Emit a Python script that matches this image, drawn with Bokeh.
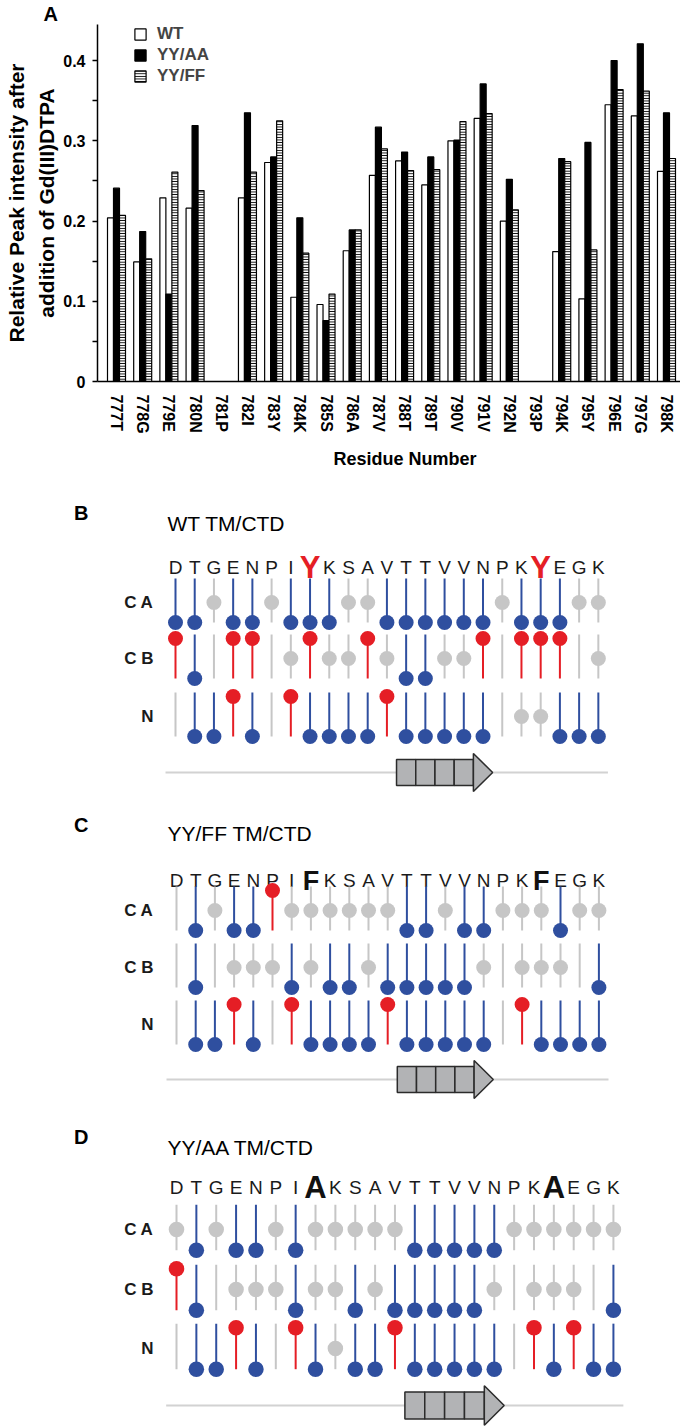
from bokeh.plotting import figure
from bokeh.models import (Range1d, FixedTicker, Legend, LegendItem, Title,
                          ColumnDataSource, PrintfTickFormatter)
from bokeh.layouts import column
from bokeh.core.properties import value
from bokeh.embed import file_html
from bokeh.resources import INLINE

FONT = "Liberation Sans"
NaN = float("nan")

# ---------------- data: panel A ----------------
residues = ["777T", "778G", "779E", "780N", "781P", "782I", "783Y", "784K", "785S",
            "786A", "787V", "788T", "789T", "790V", "791V", "792N", "793P", "794K",
            "795Y", "796E", "797G", "798K"]
wt = [0.204, 0.149, 0.229, 0.216, NaN, 0.229, 0.273, 0.105, 0.096, 0.163, 0.257,
      0.275, 0.245, 0.300, 0.328, 0.200, NaN, 0.162, 0.103, 0.345, 0.331, 0.262]
yy_aa = [0.241, 0.187, 0.109, 0.319, NaN, 0.335, 0.280, 0.204, 0.076, 0.189, 0.317,
         0.286, 0.280, 0.301, 0.371, 0.252, NaN, 0.278, 0.298, 0.400, 0.421, 0.335]
yy_ff = [0.207, 0.153, 0.261, 0.238, NaN, 0.261, 0.325, 0.160, 0.109, 0.189, 0.290,
         0.263, 0.264, 0.324, 0.334, 0.214, NaN, 0.274, 0.164, 0.364, 0.362, 0.278]
y_ticks = [0, 0.1, 0.2, 0.3, 0.4]
y_minor = [0.05, 0.15, 0.25, 0.35]

# ---------------- data: panels B-D ----------------
# states: d = blue (down), u = red (up), m = grey (middle), n = no peak
seq_wt = list("DTGENPIYKSAVTTVVNPKYEGK")
seq_ff = list("DTGENPIFKSAVTTVVNPKFEGK")
seq_aa = list("DTGENPIAKSAVTTVVNPKAEGK")
mutated = [7, 19]
row_names = ["C A", "C B", "N"]
wt_states = ["ddmddmdddmmddddddmdddmm",
             "udnuunmummumddmmunuuunm",
             "nddudnuddddudddddnmmddd"]
ff_states = ["ndmddummmmmmddmddmmmdmm",
             "ndnmmmdmddmdddddmnmmmnd",
             "nddudnuddddudddddnudddd"]
aa_states = ["mdmddmdmmmmmdddddmmmmmm",
             "udnmmmdmmdmdddddmnmmmnd",
             "nddudnudmddudddddnududd"]
strand_cells = [11.5, 12.5, 13.5, 14.5]   # residue-index start of each strand cell
strand_tip = 16.5

W = 680
FL = 97          # frame left (all figures share it)
BLUE = "#2f4f9f"
RED = "#e51e25"
GREY = "#c6c6c6"

# ---------------- panel A ----------------
HA = 490
s = 26.19
y0_px = 381
ppy = 806.7
top_px = 22
ymax = (y0_px - top_px) / ppy
xa0 = -(116 - FL) / s
xa1 = xa0 + (W - FL) / s

pA = figure(width=W, height=HA, x_range=Range1d(xa0, xa1), y_range=Range1d(0, ymax),
            output_backend="svg", toolbar_location=None, title=None,
            min_border_left=FL, min_border_right=0, min_border_top=top_px,
            min_border_bottom=HA - y0_px)
pA.outline_line_color = None
pA.grid.visible = False

idx = list(range(len(residues)))
bw = 6 / s
src = ColumnDataSource(dict(x_wt=[i - bw for i in idx], x_aa=idx,
                            x_ff=[i + bw for i in idx], wt=wt, aa=yy_aa, ff=yy_ff))
r_wt = pA.vbar(x="x_wt", top="wt", width=bw, bottom=0, source=src,
               fill_color="white", line_color="black", line_width=1.2)
r_aa = pA.vbar(x="x_aa", top="aa", width=bw, bottom=0, source=src,
               fill_color="black", line_color="black", line_width=1.2)
r_ff = pA.vbar(x="x_ff", top="ff", width=bw, bottom=0, source=src,
               fill_color="white", line_color="black", line_width=1.2,
               hatch_pattern="horizontal_line", hatch_color="black",
               hatch_scale=2.6, hatch_weight=1.2)

ya = pA.yaxis[0]
ya.ticker = FixedTicker(ticks=y_ticks, minor_ticks=y_minor)
ya.formatter = PrintfTickFormatter(format="%.1f")
ya.major_label_overrides = {0: "0"}
ya.axis_line_width = 1.5
ya.major_tick_line_width = 1.5
ya.minor_tick_line_width = 1.5
ya.major_tick_out = 5
ya.major_tick_in = 0
ya.minor_tick_out = 5
ya.minor_tick_in = 0
ya.major_label_standoff = 7
ya.major_label_text_font = FONT
ya.major_label_text_font_size = "16px"
ya.major_label_text_font_style = "bold"
ya.major_label_text_color = "black"
ya.axis_label = "Relative Peak intensity after\naddition of Gd(III)DTPA"
ya.axis_label_text_font = FONT
ya.axis_label_text_font_size = "21px"
ya.axis_label_text_font_style = "bold"
ya.axis_label_text_line_height = 1.3
ya.axis_label_standoff = 2
ya.axis_label_text_color = "black"

xa = pA.xaxis[0]
xa.ticker = FixedTicker(ticks=idx)
xa.major_label_overrides = {i: r for i, r in zip(idx, residues)}
xa.major_label_orientation = "vertical"
xa.major_tick_line_color = None
xa.minor_tick_line_color = None
xa.axis_line_width = 1.5
xa.major_label_standoff = 7
xa.major_label_text_font = FONT
xa.major_label_text_font_size = "16px"
xa.major_label_text_font_style = "bold"
xa.major_label_text_color = "black"

pA.add_layout(Title(text="A", align="left", offset=-54, standoff=0,
                    text_font=FONT, text_font_size="20px", text_font_style="bold",
                    text_color="black"), "above")
pA.add_layout(Title(text="Residue Number", align="left", offset=236, standoff=20,
                    text_font=FONT, text_font_size="18px", text_font_style="bold",
                    text_color="black"), "below")

legend = Legend(items=[LegendItem(label="WT", renderers=[r_wt]),
                       LegendItem(label="YY/AA", renderers=[r_aa]),
                       LegendItem(label="YY/FF", renderers=[r_ff])],
                location=(36, 295), orientation="vertical",
                glyph_width=14, glyph_height=14, label_height=14, label_standoff=10,
                spacing=1, padding=0, margin=0, border_line_color=None,
                background_fill_alpha=0, label_text_font=FONT,
                label_text_font_size="17px", label_text_font_style="bold")
pA.add_layout(legend)


# ---------------- panels B-D ----------------
def make_panel(letter, title, seq, states, big_color, big_size, geom):
    ref_top, H, x0, dx, sc, title_y, seq_base, rows, sheet_y = geom
    p = figure(width=W, height=H, x_range=Range1d((FL - x0) / dx, (W - x0) / dx),
               y_range=Range1d(ref_top + H, ref_top), output_backend="svg",
               toolbar_location=None, title=None, min_border_left=FL,
               min_border_right=0, min_border_top=0, min_border_bottom=0,
               x_axis_location=None, y_axis_location="left")
    p.outline_line_color = None
    p.grid.visible = False

    # panel letter as the only label of the left axis
    lab_y = title_y - 11
    yax = p.yaxis[0]
    yax.ticker = FixedTicker(ticks=[lab_y], minor_ticks=[])
    yax.major_label_overrides = {lab_y: letter}
    yax.axis_line_color = None
    yax.major_tick_line_color = None
    yax.minor_tick_line_color = None
    yax.major_tick_out = 0
    yax.major_tick_in = 0
    yax.major_label_standoff = 9
    yax.major_label_text_font = FONT
    yax.major_label_text_font_size = "20px"
    yax.major_label_text_font_style = "bold"
    yax.major_label_text_color = "black"

    def px(rx):
        return (rx - x0) / dx

    p.text(x=[px(167)], y=[title_y], text=[title], text_font=value(FONT),
           text_font_size=value("21px"), text_align="left", text_baseline="middle",
           text_color="black")
    sizes = [big_size if i in mutated else "19px" for i in range(len(seq))]
    styles = ["bold" if i in mutated else "normal" for i in range(len(seq))]
    colors = [big_color if i in mutated else "#1a1a1a" for i in range(len(seq))]
    ssrc = ColumnDataSource(dict(x=list(range(len(seq))), y=[seq_base] * len(seq),
                                 t=seq, sz=sizes, st=styles, c=colors))
    p.text(x="x", y="y", text="t", source=ssrc, text_font=value(FONT),
           text_font_size="sz", text_font_style="st", text_color="c",
           text_align="center", text_baseline="alphabetic")
    p.text(x=[px(153)] * 3, y=rows, text=row_names, text_font=value(FONT),
           text_font_size=value("17px"), text_font_style="bold", text_align="right",
           text_baseline="middle", text_color="#1a1a1a")

    # stems and heads
    sx, sy0, sy1, sc_col = [], [], [], []
    cx, cy, cc = [], [], []
    for c, st in zip(rows, states):
        for i, k in enumerate(st):
            top, bot = c - 24 * sc, c + 20 * sc
            if k == "d":
                sx.append(i); sy0.append(top); sy1.append(bot); sc_col.append(BLUE)
                cx.append(i); cy.append(bot); cc.append(BLUE)
            elif k == "u":
                sx.append(i); sy0.append(c - 20 * sc); sy1.append(bot); sc_col.append(RED)
                cx.append(i); cy.append(c - 20 * sc); cc.append(RED)
            elif k == "m":
                sx.append(i); sy0.append(top); sy1.append(bot); sc_col.append(GREY)
                cx.append(i); cy.append(c); cc.append(GREY)
            else:
                sx.append(i); sy0.append(top); sy1.append(bot); sc_col.append(GREY)
    p.segment(x0=sx, y0=sy0, x1=sx, y1=sy1, line_color=sc_col, line_width=2)
    p.scatter(x=cx, y=cy, size=15 * sc, fill_color=cc, line_color=None)

    # secondary structure
    p.segment(x0=[-0.52], y0=[sheet_y], x1=[22.5], y1=[sheet_y], line_color="#d2d2d2",
              line_width=2)
    p.quad(left=strand_cells, right=[c + 1 for c in strand_cells],
           top=[sheet_y - 13 * sc] * 4, bottom=[sheet_y + 13 * sc] * 4,
           fill_color="#b2b3b5", line_color="#2b2b2b", line_width=1.5)
    last = strand_cells[-1] + 1
    p.patch(x=[last, strand_tip, last], y=[sheet_y - 19 * sc, sheet_y, sheet_y + 19 * sc],
            fill_color="#b2b3b5", line_color="#2b2b2b", line_width=1.5)
    return p


pB = make_panel("B", "WT TM/CTD", seq_wt, wt_states, RED, "31px",
                (490, 322, 175, 19.22, 1.0, 523, 567, [602, 658, 716], 772))
pC = make_panel("C", "YY/FF TM/CTD", seq_ff, ff_states, "#111111", "27px",
                (812, 312, 176, 19.2, 1.0, 833, 880, [910, 967, 1024], 1079))
pD = make_panel("D", "YY/AA TM/CTD", seq_aa, aa_states, "#111111", "31px",
                (1124, 303, 176, 19.86, 1.035, 1147, 1187, [1229, 1289, 1348], 1405))

layout = column(pA, pB, pC, pD, spacing=0)
open("out.html", "w").write(file_html(layout, INLINE))
